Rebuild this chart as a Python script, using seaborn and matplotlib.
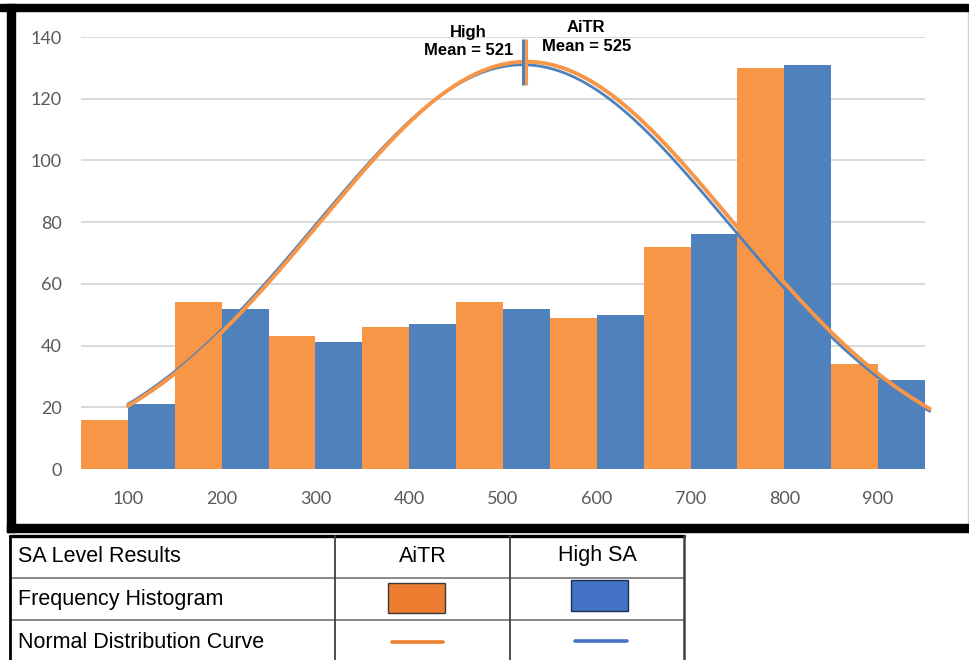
import numpy as np
import pandas as pd
import matplotlib
matplotlib.use("Agg")
import matplotlib.pyplot as plt
from matplotlib.lines import Line2D
from matplotlib.patches import Rectangle
import seaborn as sns

# ---- data ----
scores = [100, 200, 300, 400, 500, 600, 700, 800, 900]
aitr_counts = [16, 54, 43, 46, 54, 49, 72, 130, 34]
high_counts = [21, 52, 41, 47, 52, 50, 76, 131, 29]
groups = ["AiTR", "High SA"]
means = [525, 521]          # AiTR, High SA
sds = [220, 220]
peaks = [132.0, 131.0]
curve_range = (100, 955)
y_ticks = [0, 20, 40, 60, 80, 100, 120, 140]

BAR_ORANGE = "#F79646"
BAR_BLUE = "#4F81BD"
KEY_ORANGE = "#ED7D31"
KEY_BLUE = "#4472C4"

sns.set_style("white")
plt.rcParams["font.family"] = ["Liberation Sans", "DejaVu Sans"]

W, H = 969, 660
fig = plt.figure(figsize=(W / 100, H / 100), dpi=100)


def fx(px):
    return px / W


def fy(py):
    return 1 - py / H


ax = fig.add_axes([fx(81), fy(469), (925 - 81) / W, (469 - 37) / H])

df = pd.DataFrame({
    "score": [str(s) for s in scores] * 2,
    "group": [groups[0]] * len(scores) + [groups[1]] * len(scores),
    "count": aitr_counts + high_counts,
})

sns.barplot(data=df, x="score", y="count", hue="group",
            palette=[BAR_ORANGE, BAR_BLUE], width=1.0, gap=0,
            saturation=1, linewidth=0, legend=False, ax=ax, zorder=2)


def to_index(v):
    # categories sit at 0..8 for scores 100..900
    return (np.asarray(v, dtype=float) - scores[0]) / (scores[1] - scores[0])


# normal distribution curves (blue underneath, orange on top)
xs = np.linspace(curve_range[0], curve_range[1], 300)
for gi, (col, lw, z) in zip([1, 0], [(BAR_BLUE, 2.0, 3), (BAR_ORANGE, 2.8, 4)]):
    ys = peaks[gi] * np.exp(-0.5 * ((xs - means[gi]) / sds[gi]) ** 2)
    sns.lineplot(x=to_index(xs), y=ys, color=col, lw=lw, ax=ax,
                 zorder=z, sort=False, estimator=None, clip_on=False)

# mean markers
for gi, col in [(1, BAR_BLUE), (0, BAR_ORANGE)]:
    xi = float(to_index(means[gi]))
    ax.plot([xi, xi], [124.5, 139.5], color=col, lw=2.2, zorder=5,
            solid_capstyle="butt", clip_on=False)

ax.annotate("High\nMean = 521", xy=(float(to_index(means[1])), 140),
            xytext=(-39, -3), textcoords="offset points", ha="center",
            va="center", multialignment="center", fontsize=12,
            fontweight="bold", color="black", linespacing=1.25,
            annotation_clip=False)
ax.annotate("AiTR\nMean = 525", xy=(float(to_index(means[0])), 140),
            xytext=(43, 0), textcoords="offset points", ha="center",
            va="center", multialignment="center", fontsize=12,
            fontweight="bold", color="black", linespacing=1.35,
            annotation_clip=False)

ax.set_xlim(-0.5, len(scores) - 0.5)
ax.set_ylim(0, 140)
ax.set_yticks(y_ticks)
ax.set_xlabel("")
ax.set_ylabel("")
ax.yaxis.grid(True, color="#D9D9D9", lw=1.4)
ax.xaxis.grid(False)
ax.set_axisbelow(True)
for s in ax.spines.values():
    s.set_visible(False)
ax.tick_params(axis="both", length=0, labelcolor="#595959", labelsize=13)
ax.tick_params(axis="y", pad=14)
ax.tick_params(axis="x", pad=16)
for lab in ax.get_xticklabels() + ax.get_yticklabels():
    lab.set_fontfamily(["Lato", "DejaVu Sans"])

# ---- chart frame ----
frame_kw = dict(transform=fig.transFigure, color="black", zorder=10)
fig.patches.append(Rectangle((0, fy(11)), 1, (11 - 4) / H, **frame_kw))
fig.patches.append(Rectangle((fx(7), fy(532)), (15 - 7) / W, (532 - 4) / H, **frame_kw))
fig.patches.append(Rectangle((fx(7), fy(532)), 1, (532 - 524) / H, **frame_kw))
fig.lines.append(Line2D([fx(968), fx(968)], [fy(11), fy(524)],
                        transform=fig.transFigure, color="#D0D0D0", lw=1))

# ---- key table ----
tl, tr, tt, tb = 10, 684, 536, 662
cols = [tl, 335, 510, tr]
rows = [tt, 578, 620, tb]


def hline(y, x0, x1, color="#7F7F7F", lw=1.3):
    fig.lines.append(Line2D([fx(x0), fx(x1)], [fy(y), fy(y)],
                            transform=fig.transFigure, color=color, lw=lw))


def vline(x, y0, y1, color="#7F7F7F", lw=1.3):
    fig.lines.append(Line2D([fx(x), fx(x)], [fy(y0), fy(y1)],
                            transform=fig.transFigure, color=color, lw=lw))


hline(tt, tl, tr, color="black", lw=2.4)
hline(rows[1], tl, tr)
hline(rows[2], tl, tr)
vline(tl, tt, tb, color="black", lw=2.0)
vline(cols[1], tt, tb, color="#404040")
vline(cols[2], tt, tb, color="#404040")
vline(tr, tt, tb, color="#404040", lw=1.8)

table_font = dict(fontsize=15.5, color="black", va="center",
                  family=["Liberation Sans", "DejaVu Sans"])
row_labels = ["SA Level Results", "Frequency Histogram", "Normal Distribution Curve"]
row_centers = [556, 599, 642]
for lab, yc in zip(row_labels, row_centers):
    fig.text(fx(18), fy(yc), lab, ha="left", **table_font)
fig.text(fx((cols[1] + cols[2]) / 2), fy(556), groups[0], ha="center", **table_font)
fig.text(fx((cols[2] + cols[3]) / 2), fy(556), groups[1], ha="center", **table_font)

# histogram swatches
fig.patches.append(Rectangle((fx(388), fy(613)), (445 - 388) / W, (613 - 583) / H,
                             transform=fig.transFigure, facecolor=KEY_ORANGE,
                             edgecolor="#3A3A3A", lw=1.0, zorder=5))
fig.patches.append(Rectangle((fx(571), fy(611)), (628 - 571) / W, (611 - 580) / H,
                             transform=fig.transFigure, facecolor=KEY_BLUE,
                             edgecolor="#1F2F4F", lw=1.0, zorder=5))
# curve keys
fig.lines.append(Line2D([fx(392), fx(443)], [fy(642), fy(642)],
                        transform=fig.transFigure, color=KEY_ORANGE, lw=2.6))
fig.lines.append(Line2D([fx(575), fx(627)], [fy(641), fy(641)],
                        transform=fig.transFigure, color=KEY_BLUE, lw=2.6))

fig.savefig("out.png", dpi=100)
